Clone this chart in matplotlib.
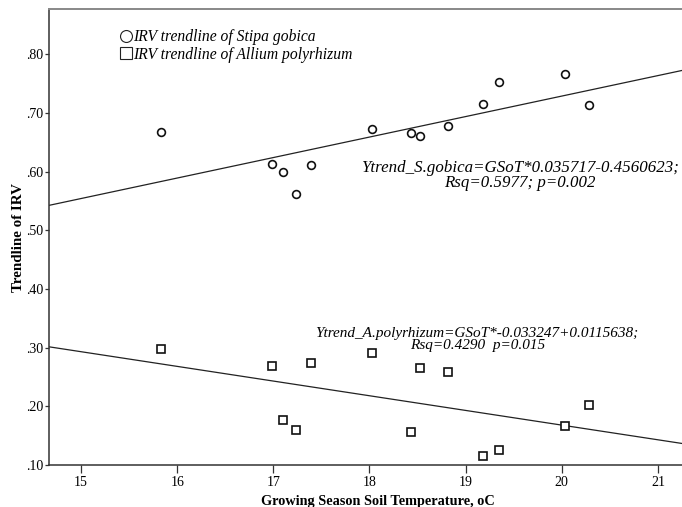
import numpy as np
import matplotlib
matplotlib.use('Agg')
import matplotlib.pyplot as plt
from matplotlib.lines import Line2D
from matplotlib.ticker import FuncFormatter, MultipleLocator

# Growing season soil temperature (shared by both species)
gsot = [15.83, 16.99, 17.10, 17.24, 17.39, 18.03, 18.43, 18.53, 18.82,
        19.18, 19.35, 20.03, 20.28]
# IRV trendline values
irv_stipa = [0.667, 0.613, 0.599, 0.561, 0.612, 0.673, 0.666, 0.661, 0.678,
             0.715, 0.752, 0.766, 0.713]
irv_allium = [0.297, 0.268, 0.177, 0.159, 0.274, 0.291, 0.156, 0.265, 0.259,
              0.115, 0.125, 0.166, 0.202]

legend_labels = ['IRV trendline of Stipa gobica',
                 'IRV trendline of Allium polyrhizum']
eq_stipa = 'Ytrend_S.gobica=GSoT*0.035717-0.4560623;\nRsq=0.5977; p=0.002'
eq_allium = 'Ytrend_A.polyrhizum=GSoT*-0.033247+0.0115638;\nRsq=0.4290  p=0.015'

SERIF = ['Liberation Serif', 'DejaVu Serif']

fig = plt.figure(figsize=(6.82, 5.07), dpi=100)
ax = fig.add_axes([49/682, 1 - 465/507, 1 - 49/682, (465 - 9)/507])

x = np.array(gsot)
xlim = (14.667, 21.25)
xx = np.array(xlim)

# regression lines fitted on the points
for ys in (irv_stipa, irv_allium):
    k, b = np.polyfit(x, np.array(ys), 1)
    ax.plot(xx, k*xx + b, color='#222222', lw=0.9, zorder=2)

ax.plot(x, irv_stipa, ls='none', marker='o', ms=5.6, mfc='white',
        mec='#111111', mew=1.2, zorder=3)
ax.plot(x, irv_allium, ls='none', marker='s', ms=5.4, mfc='white',
        mec='#111111', mew=1.2, zorder=3)

ax.set_xlim(*xlim)
ax.set_ylim(0.10, 0.877)
ax.xaxis.set_major_locator(MultipleLocator(1))
ax.yaxis.set_major_locator(MultipleLocator(0.1))
ax.yaxis.set_major_formatter(FuncFormatter(lambda v, p: f'{v:.2f}'.lstrip('0')))

for lab in ax.get_xticklabels() + ax.get_yticklabels():
    lab.set_family(SERIF)
    lab.set_fontsize(10)
ax.tick_params(axis='x', direction='out', length=6, width=0.9, color='#333333', pad=2)
ax.tick_params(axis='y', direction='out', length=3, width=0.9, color='#333333', pad=1)

ax.spines['right'].set_visible(False)
ax.spines['top'].set_color('#888888')
ax.spines['top'].set_linewidth(1.4)
for s in ('left', 'bottom'):
    ax.spines[s].set_color('#333333')
    ax.spines[s].set_linewidth(1.1)

ax.set_xlabel('Growing Season Soil Temperature, oC', family=SERIF,
              fontweight='bold', fontsize=10.3)
ax.xaxis.set_label_coords((378 - 49)/633, -(495 - 465)/456)
ax.set_ylabel('Trendline of IRV', family=SERIF, fontweight='bold', fontsize=10.8)
ax.yaxis.set_label_coords(-(49 - 25)/633, 0.5)

ax.text(19.565, 0.593, eq_stipa, family=SERIF, style='italic', fontsize=12.2,
        ha='center', va='center', linespacing=0.95)
ax.text(19.12, 0.314, eq_allium, family=SERIF, style='italic', fontsize=11.0,
        ha='center', va='center', linespacing=0.97)

handles = [Line2D([], [], ls='none', marker='o', ms=8.6, mfc='white',
                  mec='#222222', mew=0.8),
           Line2D([], [], ls='none', marker='s', ms=8.4, mfc='white',
                  mec='#222222', mew=0.8)]
leg = ax.legend(handles, legend_labels, loc='upper left',
                bbox_to_anchor=((119 - 49)/633, 1 - (29 - 9)/456),
                frameon=False, handlelength=0.9, handletextpad=0.0,
                labelspacing=0.1, borderpad=0, borderaxespad=0,
                prop={'family': SERIF, 'style': 'italic', 'size': 11.25})

fig.savefig('out.png', dpi=100)
